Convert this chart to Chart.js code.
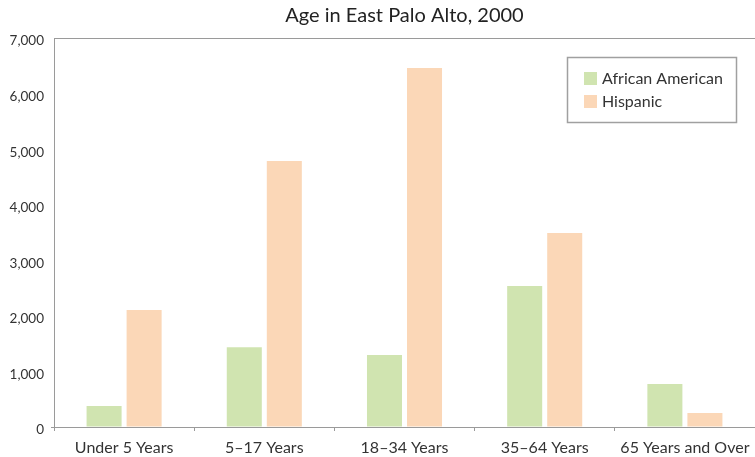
<!DOCTYPE html>
<html>
<head>
<meta charset="utf-8">
<script src="https://cdn.jsdelivr.net/npm/chart.js@4/dist/chart.umd.min.js"></script>
<style>
  html, body { margin: 0; padding: 0; background: #ffffff; }
  #wrap { width: 755px; height: 457px; }
</style>
</head>
<body>
<div id="wrap"><canvas id="c" width="755" height="457"></canvas></div>
<script>
const chartTitle = "Age in East Palo Alto, 2000";
const categories = ["Under 5 Years", "5\u201317 Years", "18\u201334 Years", "35\u201364 Years", "65 Years and Over"];
const seriesNames = ["African American", "Hispanic"];
const africanAmerican = [378, 1434, 1296, 2537, 774];
const hispanic = [2105, 4787, 6460, 3491, 252];
const yTicks = [0, 1000, 2000, 3000, 4000, 5000, 6000, 7000];
const seriesColors = ["#d0e4b0", "#fbd7b7"];

const FONT = "Lato, 'Open Sans', sans-serif";
const AXIS = "#9a9a9a";

const boxLegend = {
  id: "boxLegend",
  afterDraw(chart) {
    const ctx = chart.ctx;
    const a = chart.chartArea;
    const w = 169, h = 65;
    const x = a.right - 19 - w, y = a.top + 19;
    ctx.save();
    ctx.strokeStyle = "#a0a0a0";
    ctx.lineWidth = 1.5;
    ctx.strokeRect(x + 0.5, y + 0.5, w, h);
    ctx.font = "16px " + FONT;
    ctx.textBaseline = "middle";
    chart.data.datasets.forEach((ds, i) => {
      const iy = y + 15 + i * 23;
      ctx.fillStyle = ds.backgroundColor;
      ctx.fillRect(x + 17, iy, 13, 13);
      ctx.fillStyle = "#333333";
      ctx.fillText(ds.label, x + 35, iy + 7);
    });
    ctx.restore();
  }
};

new Chart(document.getElementById("c"), {
  type: "bar",
  data: {
    labels: categories,
    datasets: [
      { label: seriesNames[0], data: africanAmerican, backgroundColor: seriesColors[0] },
      { label: seriesNames[1], data: hispanic, backgroundColor: seriesColors[1] }
    ]
  },
  options: {
    responsive: false,
    animation: false,
    layout: { padding: { left: 0, right: 0, top: 0, bottom: 0 } },
    datasets: { bar: { categoryPercentage: 0.571, barPercentage: 0.875 } },
    plugins: {
      legend: { display: false },
      tooltip: { enabled: false },
      title: {
        display: true,
        text: chartTitle,
        fullSize: false,
        color: "#222222",
        font: { family: FONT, size: 20, weight: "normal" },
        padding: { top: 4, bottom: 10 }
      }
    },
    scales: {
      x: {
        grid: { display: true, drawOnChartArea: false, offset: true, color: AXIS, tickLength: 4 },
        border: { display: true, color: AXIS, width: 1 },
        ticks: { color: "#333333", font: { family: FONT, size: 16 }, padding: 7, maxRotation: 0, autoSkip: false },
        afterFit(scale) { scale.height = 30; scale.paddingLeft = 0; scale.paddingRight = 0; }
      },
      y: {
        min: 0,
        max: 7000,
        afterBuildTicks(scale) { scale.ticks = yTicks.map(v => ({ value: v })); },
        grid: {
          display: true,
          drawOnChartArea: true,
          tickLength: 3,
          color: (c) => (c.tick && c.tick.value === 7000) ? AXIS : "rgba(0,0,0,0)",
          tickColor: (c) => (c.tick && c.tick.value === 0) ? AXIS : "rgba(0,0,0,0)"
        },
        border: { display: true, color: AXIS, width: 1 },
        ticks: {
          color: "#333333",
          font: { family: FONT, size: 13.5 },
          padding: 7,
          labelOffset: 3,
          callback: (v) => v.toLocaleString("en-US")
        },
        afterFit(scale) { scale.width = 54; scale.paddingTop = 0; scale.paddingBottom = 0; }
      }
    }
  },
  plugins: [boxLegend]
});
</script>
</body>
</html>
